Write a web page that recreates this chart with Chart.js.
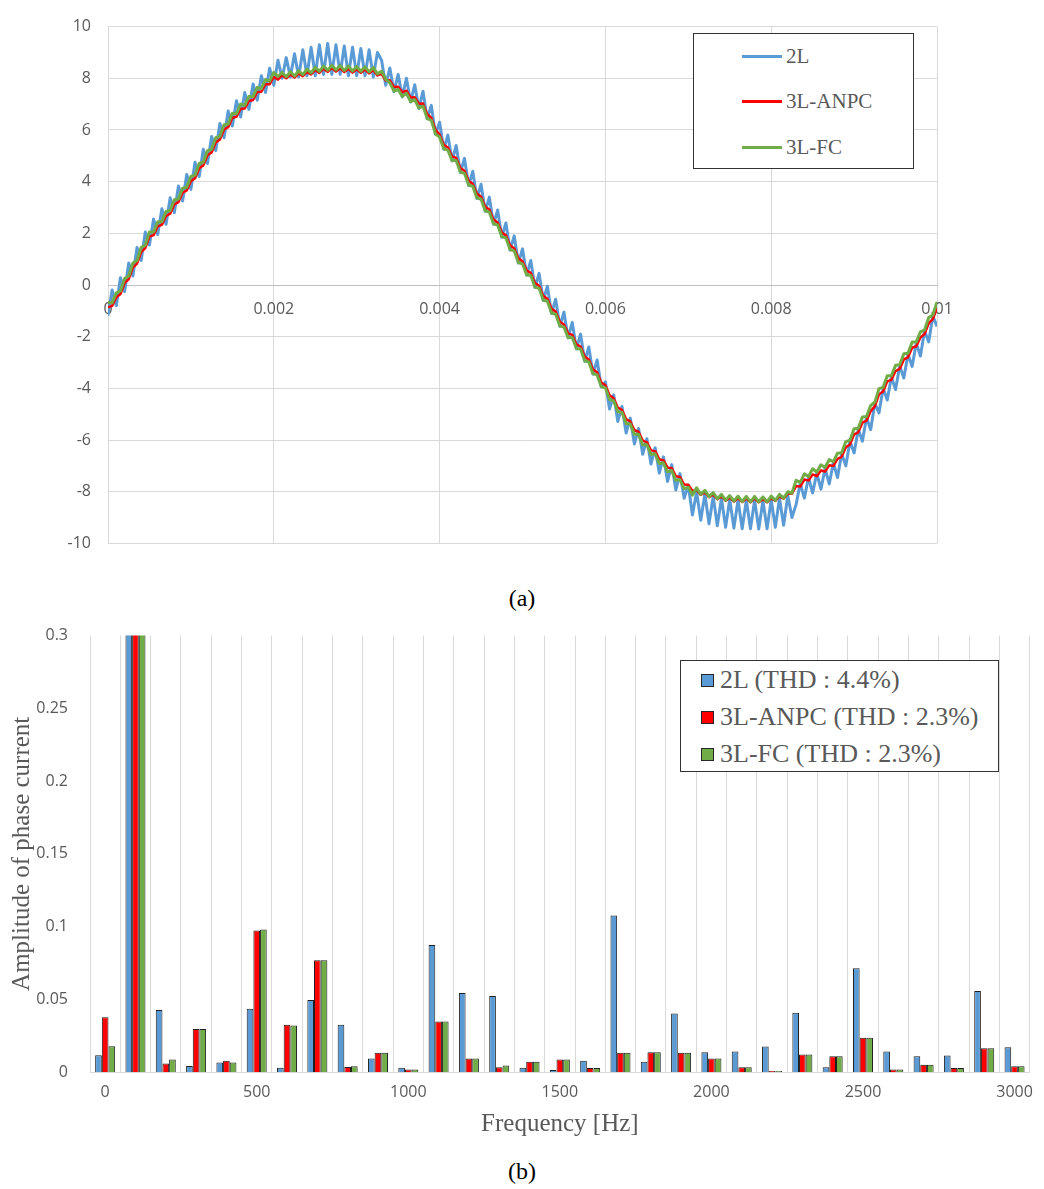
<!DOCTYPE html>
<html>
<head>
<meta charset="utf-8">
<title>Phase current waveforms and harmonic spectrum</title>
<script src="https://cdn.jsdelivr.net/npm/chart.js@4.4.1/dist/chart.umd.min.js"></script>
<style>
    body { margin: 0; background: #fff; }
    #page { position: relative; width: 1044px; height: 1189px; overflow: hidden; }
    .panel { position: absolute; left: 0; width: 1044px; }
    #waveBox { top: 0; height: 570px; }
    #specBox { top: 612px; height: 540px; }
    .caption {
        position: absolute; left: 0; width: 1044px; text-align: center;
        font: 24px 'Liberation Serif', 'Times New Roman', serif; color: #000; line-height: 28px;
    }
    .legend {
        position: absolute; box-sizing: border-box; border: 1px solid #333; background: #fff;
        font-family: 'Liberation Serif', 'Times New Roman', serif; color: #595959;
    }
    .legend .row { position: absolute; left: 0; right: 0; height: 30px; line-height: 30px; white-space: nowrap; }
    .legend .swatch { position: absolute; }
    .legend .text { position: absolute; top: 0; }
</style>
</head>
<body>
<div id="page">
    <div class="panel" id="waveBox"><canvas id="waveChart" width="1044" height="570"></canvas></div>
    <div class="caption" style="top:584px">(a)</div>
    <div class="legend" id="waveLegend" style="left:693px; top:33px; width:221px; height:136px; font-size:21px"></div>

    <div class="panel" id="specBox"><canvas id="specChart" width="1044" height="540"></canvas></div>
    <div class="caption" style="top:1157px">(b)</div>
    <div class="legend" id="specLegend" style="left:680px; top:660px; width:319px; height:112px; font-size:26px"></div>
</div>

<script>
// ---- (a) phase current waveforms, sampled every 50 us over 0 .. 0.01 s ----
const waveNames = ['2L', '3L-ANPC', '3L-FC'];
const waveColors = ['#5b9bd5', '#ff0000', '#70ad47'];

const time = [];
for (let i = 0; i <= 200; i++) time.push(+(i * 0.00005).toFixed(5));

const cur2L = [
    -1.18, -0.19, -0.80, 0.28, -0.25, 0.85, 0.35, 1.45, 0.95, 2.05, 1.55, 2.55, 1.95, 2.95, 2.35, 3.38, 2.80, 3.83, 3.25, 4.28,
    3.70, 4.75, 4.20, 5.25, 4.70, 5.75, 5.20, 6.25, 5.70, 6.73, 6.15, 7.13, 6.50, 7.45, 6.80, 7.78, 7.15, 8.10, 7.45, 8.39,
    7.73, 8.70, 8.00, 8.80, 8.05, 8.95, 8.05, 9.10, 8.10, 9.20, 8.10, 9.30, 8.15, 9.35, 8.15, 9.30, 8.15, 9.25, 8.10, 9.20,
    8.10, 9.15, 8.10, 9.10, 8.05, 9.00, 8.70, 7.73, 8.40, 7.48, 8.15, 7.28, 8.00, 7.08, 7.75, 6.83, 7.50, 6.43, 6.95, 5.83,
    6.30, 5.25, 5.80, 4.80, 5.40, 4.35, 4.90, 3.85, 4.40, 3.35, 3.90, 2.85, 3.40, 2.35, 2.90, 1.85, 2.40, 1.35, 1.90, 0.85,
    1.40, 0.38, 0.95, -0.10, 0.45, -0.60, -0.05, -1.10, -0.55, -1.60, -1.05, -2.05, -1.45, -2.48, -1.90, -2.95, -2.40, -3.45, -2.90, -3.95,
    -3.75, -4.80, -4.25, -5.28, -4.70, -5.73, -5.15, -6.15, -5.55, -6.55, -5.95, -6.93, -6.30, -7.28, -6.65, -7.60, -6.95, -7.93, -7.30, -8.25,
    -7.75, -8.90, -8.00, -9.10, -8.10, -9.24, -8.18, -9.32, -8.25, -9.38, -8.30, -9.41, -8.32, -9.43, -8.33, -9.43, -8.33, -9.44, -8.35, -9.43,
    -8.32, -9.38, -8.25, -9.30, -8.15, -9.00, -8.50, -7.68, -8.25, -7.45, -8.05, -7.28, -7.90, -7.10, -7.70, -6.88, -7.45, -6.53, -7.00, -6.05,
    -6.50, -5.58, -6.05, -5.13, -5.60, -4.58, -4.95, -4.00, -4.45, -3.55, -4.05, -3.13, -3.60, -2.68, -3.15, -2.25, -2.75, -1.78, -2.20, -1.20,
    -1.60
];

const curANPC = [
    -0.86, -0.81, -0.48, -0.35, 0.07, 0.23, 0.67, 0.83, 1.27, 1.43, 1.87, 1.93, 2.27, 2.33, 2.67, 2.76, 3.12, 3.21, 3.57, 3.66,
    4.02, 4.13, 4.52, 4.63, 5.02, 5.13, 5.52, 5.63, 6.02, 6.11, 6.47, 6.51, 6.82, 6.83, 7.12, 7.16, 7.47, 7.48, 7.77, 7.77,
    8.05, 7.95, 8.12, 8.00, 8.15, 8.03, 8.19, 8.08, 8.25, 8.15, 8.32, 8.21, 8.37, 8.25, 8.40, 8.26, 8.39, 8.24, 8.37, 8.22,
    8.35, 8.21, 8.34, 8.19, 8.32, 8.11, 8.17, 7.91, 7.92, 7.66, 7.67, 7.46, 7.52, 7.26, 7.27, 7.01, 7.02, 6.61, 6.47, 6.01,
    5.82, 5.43, 5.32, 4.98, 4.92, 4.53, 4.42, 4.03, 3.92, 3.53, 3.42, 3.03, 2.92, 2.53, 2.42, 2.03, 1.92, 1.53, 1.42, 1.03,
    0.92, 0.56, 0.47, 0.08, -0.03, -0.42, -0.53, -0.92, -1.03, -1.42, -1.53, -1.87, -1.93, -2.30, -2.38, -2.77, -2.88, -3.27, -3.38, -3.77,
    -3.88, -4.27, -4.38, -4.75, -4.83, -5.20, -5.28, -5.62, -5.68, -6.02, -6.08, -6.40, -6.43, -6.75, -6.78, -7.07, -7.08, -7.40, -7.43, -7.72,
    -7.73, -7.97, -7.93, -8.12, -8.03, -8.21, -8.11, -8.29, -8.18, -8.35, -8.23, -8.38, -8.25, -8.40, -8.26, -8.41, -8.26, -8.41, -8.28, -8.41,
    -8.25, -8.36, -8.18, -8.27, -8.08, -8.07, -7.78, -7.80, -7.53, -7.57, -7.33, -7.40, -7.18, -7.22, -6.98, -7.00, -6.73, -6.65, -6.28, -6.17,
    -5.78, -5.70, -5.33, -5.25, -4.88, -4.70, -4.23, -4.12, -3.73, -3.67, -3.33, -3.25, -2.88, -2.80, -2.43, -2.37, -2.03, -1.90, -1.48, -1.32,
    -0.88
];

const curFC = [
    -0.68, -0.69, -0.30, -0.23, 0.25, 0.35, 0.85, 0.95, 1.45, 1.55, 2.05, 2.05, 2.45, 2.45, 2.85, 2.88, 3.30, 3.33, 3.75, 3.78,
    4.20, 4.25, 4.70, 4.75, 5.20, 5.25, 5.70, 5.75, 6.20, 6.23, 6.65, 6.63, 7.00, 6.95, 7.30, 7.28, 7.65, 7.60, 7.95, 7.89,
    8.23, 8.07, 8.22, 8.06, 8.25, 8.09, 8.29, 8.14, 8.35, 8.21, 8.42, 8.27, 8.47, 8.31, 8.50, 8.32, 8.49, 8.30, 8.47, 8.28,
    8.45, 8.27, 8.44, 8.25, 8.42, 8.17, 8.27, 7.97, 7.82, 7.50, 7.57, 7.30, 7.42, 7.10, 7.17, 6.85, 6.92, 6.45, 6.37, 5.85,
    5.72, 5.27, 5.22, 4.82, 4.82, 4.37, 4.32, 3.87, 3.82, 3.37, 3.32, 2.87, 2.82, 2.37, 2.32, 1.87, 1.82, 1.37, 1.32, 0.87,
    0.82, 0.40, 0.37, -0.08, -0.13, -0.58, -0.63, -1.08, -1.13, -1.58, -1.63, -2.03, -2.03, -2.46, -2.48, -2.93, -2.98, -3.43, -3.48, -3.93,
    -3.98, -4.43, -4.48, -4.91, -4.93, -5.36, -5.38, -5.78, -5.78, -6.18, -6.18, -6.56, -6.53, -6.91, -6.88, -7.23, -7.18, -7.56, -7.53, -7.88,
    -7.83, -8.13, -7.85, -8.10, -7.95, -8.19, -8.03, -8.27, -8.10, -8.33, -8.15, -8.36, -8.17, -8.38, -8.18, -8.39, -8.18, -8.39, -8.20, -8.39,
    -8.17, -8.34, -8.10, -8.25, -8.00, -8.05, -7.56, -7.64, -7.31, -7.41, -7.11, -7.24, -6.96, -7.06, -6.76, -6.84, -6.51, -6.49, -6.06, -6.01,
    -5.56, -5.54, -5.11, -5.09, -4.66, -4.54, -4.01, -3.96, -3.51, -3.51, -3.11, -3.09, -2.66, -2.64, -2.21, -2.21, -1.81, -1.74, -1.26, -1.16,
    -0.66
];

// ---- (b) harmonic amplitudes, 0 .. 3000 Hz (100 Hz fundamental runs off the top) ----
const specNames = ['2L (THD : 4.4%)', '3L-ANPC (THD : 2.3%)', '3L-FC (THD : 2.3%)'];
const specColors = ['#5b9bd5', '#ff0000', '#70ad47'];

const freq = [0, 100, 200, 300, 400, 500, 600, 700, 800, 900, 1000, 1100, 1200, 1300, 1400, 1500,
    1600, 1700, 1800, 1900, 2000, 2100, 2200, 2300, 2400, 2500, 2600, 2700, 2800, 2900, 3000];

const amp2L = [0.0116, 8.4, 0.0427, 0.0041, 0.0066, 0.0434, 0.0030, 0.0495, 0.0325, 0.0093, 0.0030,
    0.0873, 0.0543, 0.0523, 0.0030, 0.0014, 0.0077, 0.1075, 0.0070, 0.0402, 0.0136,
    0.0141, 0.0175, 0.0407, 0.0032, 0.0714, 0.0141, 0.0109, 0.0114, 0.0557, 0.0170];
const ampANPC = [0.0377, 8.4, 0.0059, 0.0295, 0.0077, 0.0973, 0.0325, 0.0768, 0.0034, 0.0132, 0.0018,
    0.0348, 0.0093, 0.0032, 0.0070, 0.0086, 0.0027, 0.0132, 0.0136, 0.0132, 0.0093,
    0.0032, 0.0007, 0.0120, 0.0109, 0.0236, 0.0018, 0.0050, 0.0027, 0.0164, 0.0039];
const ampFC = [0.0177, 8.4, 0.0086, 0.0295, 0.0066, 0.0980, 0.0320, 0.0768, 0.0040, 0.0132, 0.0018,
    0.0348, 0.0093, 0.0045, 0.0070, 0.0086, 0.0027, 0.0132, 0.0136, 0.0132, 0.0093,
    0.0032, 0.0007, 0.0120, 0.0109, 0.0236, 0.0018, 0.0050, 0.0027, 0.0164, 0.0039];

Chart.defaults.font.family = "'Open Sans', 'DejaVu Sans', sans-serif";
Chart.defaults.font.size = 16;
Chart.defaults.color = '#595959';

const serif = "'Liberation Serif', 'Times New Roman', serif";

function toPoints(values) {
    return time.map((t, i) => ({ x: t, y: values[i] }));
}

function drawWaveChart() {
    const series = [cur2L, curANPC, curFC];
    const datasets = series.map((values, i) => ({
        label: waveNames[i],
        data: toPoints(values),
        borderColor: waveColors[i],
        backgroundColor: waveColors[i],
        borderWidth: i === 1 ? 2.5 : 3,
        pointRadius: 0,
        tension: 0,
        borderJoinStyle: 'round',
        order: 3 - i   // green drawn last, blue underneath
    }));

    new Chart(document.getElementById('waveChart'), {
        type: 'line',
        data: { datasets },
        options: {
            responsive: false,
            animation: false,
            devicePixelRatio: 1,
            layout: { padding: { top: 14, right: 107, bottom: 18, left: 0 } },
            plugins: { legend: { display: false }, tooltip: { enabled: false } },
            scales: {
                x: {
                    type: 'linear',
                    position: { y: 0 },
                    min: 0,
                    max: 0.01,
                    ticks: {
                        stepSize: 0.002,
                        padding: 15,
                        callback: v => v === 0 ? '0' : String(+v.toFixed(3))
                    },
                    grid: { color: '#d9d9d9', drawTicks: false },
                    border: { color: '#bfbfbf' }
                },
                y: {
                    min: -10,
                    max: 10,
                    ticks: { stepSize: 2, padding: 17 },
                    grid: { color: '#d9d9d9', drawTicks: false },
                    border: { display: false },
                    afterFit: s => { s.width = 108; }
                }
            }
        }
    });
}

function drawSpecChart() {
    const series = [amp2L, ampANPC, ampFC];
    const datasets = series.map((values, i) => ({
        label: specNames[i],
        data: values,
        backgroundColor: specColors[i],
        borderColor: '#1f1f1f',
        borderWidth: 1,
        clip: 0
    }));

    new Chart(document.getElementById('specChart'), {
        type: 'bar',
        data: { labels: freq, datasets },
        options: {
            responsive: false,
            animation: false,
            devicePixelRatio: 1,
            layout: { padding: { top: 20, right: 10, bottom: 0, left: 0 } },
            datasets: { bar: { categoryPercentage: 0.66, barPercentage: 1.0 } },
            plugins: { legend: { display: false }, tooltip: { enabled: false } },
            scales: {
                x: {
                    grid: { color: '#d9d9d9', offset: true, drawTicks: false },
                    border: { color: '#d9d9d9' },
                    ticks: {
                        autoSkip: false,
                        maxRotation: 0,
                        padding: 11,
                        callback: (v, i) => freq[i] % 500 === 0 ? String(freq[i]) : ''
                    },
                    title: {
                        display: true,
                        text: 'Frequency [Hz]',
                        color: '#595959',
                        font: { family: serif, size: 25 },
                        padding: { top: 0, bottom: 13 }
                    },
                    afterFit: s => { s.height = 80; }
                },
                y: {
                    min: 0,
                    max: 0.3,
                    ticks: {
                        stepSize: 0.05,
                        padding: 14,
                        callback: v => String(+v.toFixed(2))
                    },
                    grid: { display: false },
                    border: { display: false },
                    title: {
                        display: true,
                        text: 'Amplitude of phase current',
                        color: '#595959',
                        font: { family: serif, size: 25 },
                        padding: { top: 7, bottom: 0 }
                    },
                    afterFit: s => { s.width = 90; }
                }
            }
        }
    });
}

// legends sit inside the plot areas, so they are laid out as plain boxes
function buildLegend(boxId, names, colors, opts) {
    const box = document.getElementById(boxId);
    names.forEach((name, i) => {
        const row = document.createElement('div');
        row.className = 'row';
        row.style.top = (opts.rowTops[i] - 15) + 'px';

        const sw = document.createElement('span');
        sw.className = 'swatch';
        sw.style.left = opts.swatchLeft + 'px';
        sw.style.width = opts.swatchW + 'px';
        sw.style.height = opts.swatchH + 'px';
        sw.style.top = (15 - opts.swatchH / 2) + 'px';
        sw.style.background = colors[i];
        if (opts.swatchBorder) {
            sw.style.boxSizing = 'border-box';
            sw.style.border = opts.swatchBorder;
        }

        const txt = document.createElement('span');
        txt.className = 'text';
        txt.style.left = opts.textLeft + 'px';
        txt.textContent = name;

        row.appendChild(sw);
        row.appendChild(txt);
        box.appendChild(row);
    });
}

drawWaveChart();
drawSpecChart();

buildLegend('waveLegend', waveNames, waveColors, {
    rowTops: [22, 67, 113], swatchLeft: 48, swatchW: 40, swatchH: 3, textLeft: 92
});
buildLegend('specLegend', specNames, specColors, {
    rowTops: [19, 56, 93], swatchLeft: 20, swatchW: 13, swatchH: 13, textLeft: 39,
    swatchBorder: '1px solid #262626'
});
</script>
</body>
</html>
